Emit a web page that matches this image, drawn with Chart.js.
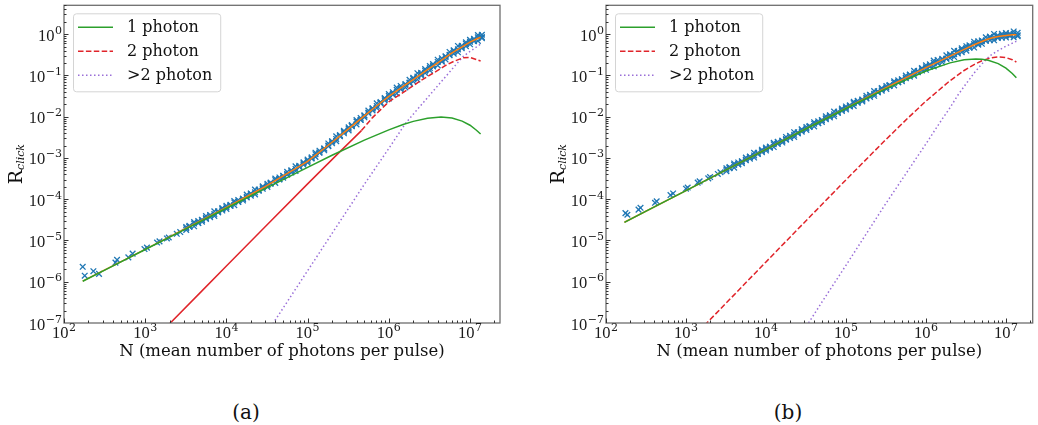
<!DOCTYPE html>
<html>
<head>
<meta charset="utf-8">
<script src="https://cdn.jsdelivr.net/npm/chart.js@4.4.1/dist/chart.umd.min.js"></script>
<style>
  body { margin: 0; background: #fff; width: 1038px; height: 425px; position: relative; overflow: hidden; font-family: 'DejaVu Serif', serif; }
  .panel { position: absolute; top: 0; height: 372px; }
  #pa { left: 0; width: 520px; }
  #pb { left: 520px; width: 518px; }
  .cap { position: absolute; top: 400px; width: 100px; text-align: center; font-size: 20px; line-height: 24px; color: #111; }
</style>
</head>
<body>
<div class="panel" id="pa"><canvas id="ca" width="520" height="372"></canvas></div>
<div class="panel" id="pb"><canvas id="cb" width="518" height="372"></canvas></div>
<div class="cap" style="left:196px">(a)</div>
<div class="cap" style="left:738px">(b)</div>
<script>
// axes: decade ticks, labelled 10^exp
const xTicks = [1e2, 1e3, 1e4, 1e5, 1e6, 1e7];
const xTickExps = ['2', '3', '4', '5', '6', '7'];
const yTicks = [1e-7, 1e-6, 1e-5, 1e-4, 1e-3, 1e-2, 1e-1, 1e0];
const yTickExps = ['−7', '−6', '−5', '−4', '−3', '−2', '−1', '0'];
const seriesNames = ['1 photon', '2 photon', '>2 photon'];
const xTitle = 'N (mean number of photons per pulse)';

// ---- panel (a) ----
const aGreenN = [170, 300, 1e3, 3e3, 1e4, 3e4, 1e5, 2e5, 5e5, 1e6, 1.5e6, 2e6, 3e6, 4.4e6, 6e6, 8e6, 1e7, 1.2e7, 1.35e7];
const aGreenR = [1.03e-6, 1.8e-6, 6.05e-6, 1.81e-5, 6.04e-5, 1.8e-4, 5.9e-4, 1.16e-3, 2.7e-3, 4.8e-3, 6.45e-3, 7.7e-3, 9.2e-3, 9.8e-3, 9.3e-3, 7.8e-3, 6.2e-3, 4.7e-3, 3.8e-3];
const aRedN = [1800, 5e3, 1e4, 3e4, 1e5, 2.4e5, 4.6e5, 6.3e5, 1e6, 1.66e6, 2.5e6, 3.16e6, 4e6, 5e6, 6.3e6, 8.3e6, 1e7, 1.35e7];
const aRedR = [7.8e-8, 6.0e-7, 2.4e-6, 2.15e-5, 2.35e-4, 1.31e-3, 4.6e-3, 9.5e-3, 2.3e-2, 4.4e-2, 7.6e-2, 0.1, 0.132, 0.174, 0.219, 0.269, 0.272, 0.224];
const aPurpleN = [3.5e4, 5e4, 1e5, 2e5, 5e5, 1e6, 1.6e6, 2e6, 2.66e6, 4e6, 5.16e6, 6e6, 8.26e6, 1e7, 1.35e7];
const aPurpleR = [7.9e-8, 2.31e-7, 1.85e-6, 1.48e-5, 2.3e-4, 1.7e-3, 6.8e-3, 1.15e-2, 2.2e-2, 5.6e-2, 0.1, 0.141, 0.29, 0.38, 0.575];
const aFitN = [170, 1e3, 1e4, 3e4, 1e5, 2e5, 3e5, 5e5, 7e5, 1e6, 1.5e6, 2e6, 3e6, 4e6, 5e6, 6e6, 8e6, 1e7, 1.2e7, 1.35e7];
const aFitR = [1.03e-6, 6.1e-6, 6.28e-5, 2.02e-4, 8.26e-4, 2.4e-3, 4.6e-3, 1.05e-2, 1.79e-2, 3.09e-2, 5.4e-2, 7.94e-2, 0.138, 0.202, 0.275, 0.35, 0.494, 0.638, 0.762, 0.84];
const aRedSolidTo = 4.6e5;

// measured points: three runs over the same N sweep, plus the sparse low-N points
const sweepN = [3200, 3500, 4000, 4500, 5000, 5600, 6300, 7100, 7900, 8900,
  10000, 11200, 12500, 14000, 16000, 17800, 20000, 22500, 25000, 28000,
  32000, 35000, 40000, 45000, 50000, 56000, 63000, 71000, 79000, 89000,
  1.0e5, 1.12e5, 1.25e5, 1.4e5, 1.6e5, 1.8e5, 2.0e5, 2.25e5, 2.5e5, 2.8e5,
  3.2e5, 3.5e5, 4.0e5, 4.5e5, 5.0e5, 5.6e5, 6.3e5, 7.1e5, 7.9e5, 8.9e5,
  1.0e6, 1.12e6, 1.25e6, 1.4e6, 1.6e6, 1.8e6, 2.0e6, 2.25e6, 2.5e6, 2.8e6,
  3.2e6, 3.5e6, 4.0e6, 4.5e6, 5.0e6, 5.6e6, 6.3e6, 7.1e6, 7.9e6, 8.9e6,
  1.0e7, 1.12e7, 1.25e7, 1.4e7];
const aRun1 = [2.13e-5, 2.27e-5, 2.79e-5, 2.94e-5, 3.16e-5, 3.9e-5, 4.16e-5, 5.1e-5, 5.11e-5, 6.08e-5,
  6.91e-5, 7.34e-5, 9.07e-5, 9.61e-5, 1.03e-4, 1.29e-4, 1.38e-4, 1.71e-4, 1.71e-4, 2.05e-4,
  2.35e-4, 2.53e-4, 3.16e-4, 3.37e-4, 3.67e-4, 4.59e-4, 4.99e-4, 6.26e-4, 6.41e-4, 7.83e-4,
  9.09e-4, 1.03e-3, 1.34e-3, 1.5e-3, 1.69e-3, 2.24e-3, 2.54e-3, 3.34e-3, 3.57e-3, 4.55e-3,
  5.51e-3, 6.27e-3, 8.25e-3, 9.32e-3, 1.07e-2, 1.41e-2, 1.6e-2, 2.11e-2, 2.26e-2, 2.83e-2,
  3.52e-2, 3.92e-2, 5.08e-2, 5.56e-2, 6.17e-2, 7.84e-2, 8.73e-2, 0.113, 0.116, 0.142,
  0.169, 0.188, 0.24, 0.26, 0.292, 0.371, 0.409, 0.517, 0.524, 0.635,
  0.727, 0.773, 0.945, 0.967];
const aRun2 = [1.8e-5, 2.14e-5, 2.21e-5, 2.64e-5, 2.85e-5, 3.48e-5, 3.68e-5, 3.92e-5, 4.81e-5, 5.3e-5,
  5.84e-5, 6.92e-5, 7.16e-5, 8.62e-5, 9.29e-5, 1.15e-4, 1.22e-4, 1.31e-4, 1.61e-4, 1.79e-4,
  1.99e-4, 2.38e-4, 2.49e-4, 3.02e-4, 3.31e-4, 4.1e-4, 4.43e-4, 4.81e-4, 6.03e-4, 6.82e-4,
  7.68e-4, 9.69e-4, 1.06e-3, 1.34e-3, 1.53e-3, 2.0e-3, 2.26e-3, 2.56e-3, 3.37e-3, 3.96e-3,
  4.66e-3, 5.91e-3, 6.52e-3, 8.36e-3, 9.66e-3, 1.26e-2, 1.42e-2, 1.62e-2, 2.12e-2, 2.47e-2,
  2.75e-2, 3.41e-2, 3.67e-2, 4.61e-2, 5.12e-2, 6.49e-2, 7.15e-2, 7.93e-2, 0.1, 0.115,
  0.132, 0.164, 0.174, 0.215, 0.242, 0.307, 0.335, 0.363, 0.456, 0.511,
  0.568, 0.673, 0.683, 0.801];
const aRun3 = [1.98e-5, 2.16e-5, 2.57e-5, 2.67e-5, 3.13e-5, 3.34e-5, 4.08e-5, 4.4e-5, 4.86e-5, 5.75e-5,
  6.41e-5, 6.99e-5, 8.36e-5, 8.71e-5, 1.02e-4, 1.1e-4, 1.35e-4, 1.47e-4, 1.63e-4, 1.94e-4,
  2.18e-4, 2.41e-4, 2.91e-4, 3.06e-4, 3.64e-4, 3.94e-4, 4.9e-4, 5.4e-4, 6.1e-4, 7.4e-4,
  8.43e-4, 9.79e-4, 1.23e-3, 1.36e-3, 1.68e-3, 1.92e-3, 2.5e-3, 2.88e-3, 3.4e-3, 4.3e-3,
  5.11e-3, 5.97e-3, 7.6e-3, 8.45e-3, 1.06e-2, 1.21e-2, 1.57e-2, 1.82e-2, 2.15e-2, 2.68e-2,
  3.15e-2, 3.59e-2, 4.48e-2, 4.86e-2, 5.88e-2, 6.69e-2, 8.26e-2, 9.33e-2, 0.106, 0.13,
  0.151, 0.172, 0.212, 0.227, 0.278, 0.317, 0.387, 0.427, 0.48, 0.579,
  0.651, 0.709, 0.834, 0.845];
const aLowN = [170, 180, 230, 270, 430, 450, 620, 700, 980, 1050, 1400, 1500, 1850, 1950, 2450, 2700];
const aLowR = [2.3e-6, 1.4e-6, 1.8e-6, 1.55e-6, 2.9e-6, 3.4e-6, 3.9e-6, 4.8e-6, 6.2e-6, 6.7e-6, 8.9e-6, 9.5e-6, 1.12e-5, 1.18e-5, 1.45e-5, 1.6e-5];

// ---- panel (b) ----
const bGreenN = [170, 300, 1e3, 3e3, 1e4, 3e4, 1e5, 3e5, 1e6, 2e6, 3e6, 4.2e6, 5e6, 6e6, 8e6, 1e7, 1.2e7, 1.35e7];
const bGreenR = [2.75e-5, 4.86e-5, 1.62e-4, 4.86e-4, 1.62e-3, 4.83e-3, 0.0158, 0.0452, 0.1277, 0.2015, 0.238, 0.25, 0.246, 0.233, 0.193, 0.15, 0.111, 0.0875];
const bRedN = [1700, 5e3, 1e4, 3e4, 1e5, 3e5, 6e5, 1e6, 2e6, 3e6, 4e6, 5e6, 6e6, 7e6, 8.3e6, 1e7, 1.2e7, 1.35e7];
const bRedR = [8.7e-8, 7.55e-7, 3.02e-6, 2.7e-5, 2.95e-4, 2.53e-3, 9.42e-3, 0.0238, 0.0745, 0.1316, 0.183, 0.226, 0.255, 0.273, 0.28, 0.27, 0.24, 0.211];
const bPurpleN = [3.2e4, 5e4, 1e5, 3e5, 1e6, 1.58e6, 2e6, 2.5e6, 3.16e6, 4e6, 5e6, 6.3e6, 8e6, 1e7, 1.35e7];
const bPurpleR = [8.3e-8, 3.2e-7, 2.5e-6, 6.8e-5, 2.2e-3, 8.5e-3, 0.0165, 0.033, 0.062, 0.114, 0.19, 0.3, 0.4, 0.51, 0.67];
const bFitN = [170, 1e3, 1e4, 1e5, 3e5, 1e6, 1.5e6, 2e6, 3e6, 4e6, 5e6, 6e6, 7e6, 8e6, 1e7, 1.2e7, 1.35e7];
const bFitR = [2.76e-5, 1.62e-4, 1.623e-3, 1.61e-2, 4.8e-2, 0.154, 0.225, 0.294, 0.427, 0.553, 0.662, 0.76, 0.83, 0.875, 0.933, 0.968, 0.97];
const bRun1 = [5.64e-4, 5.98e-4, 7.36e-4, 7.76e-4, 8.29e-4, 1.02e-3, 1.08e-3, 1.33e-3, 1.33e-3, 1.58e-3,
  1.78e-3, 1.89e-3, 2.33e-3, 2.45e-3, 2.62e-3, 3.23e-3, 3.42e-3, 4.21e-3, 4.19e-3, 4.97e-3,
  5.64e-3, 5.97e-3, 7.34e-3, 7.73e-3, 8.27e-3, 1.02e-2, 1.08e-2, 1.33e-2, 1.32e-2, 1.57e-2,
  1.77e-2, 1.88e-2, 2.31e-2, 2.43e-2, 2.6e-2, 3.2e-2, 3.39e-2, 4.16e-2, 4.14e-2, 4.91e-2,
  5.56e-2, 5.87e-2, 7.22e-2, 7.58e-2, 8.07e-2, 9.92e-2, 0.105, 0.129, 0.128, 0.151,
  0.176, 0.186, 0.228, 0.237, 0.252, 0.307, 0.323, 0.395, 0.389, 0.455,
  0.51, 0.536, 0.656, 0.669, 0.703, 0.841, 0.871, 1.01, 0.933, 1.02,
  1.06, 1.03, 1.16, 1.08];
const bRun2 = [4.77e-4, 5.64e-4, 5.81e-4, 6.96e-4, 7.48e-4, 9.12e-4, 9.62e-4, 1.02e-3, 1.25e-3, 1.38e-3,
  1.51e-3, 1.78e-3, 1.84e-3, 2.2e-3, 2.36e-3, 2.88e-3, 3.04e-3, 3.23e-3, 3.95e-3, 4.33e-3,
  4.77e-3, 5.63e-3, 5.8e-3, 6.93e-3, 7.46e-3, 9.1e-3, 9.58e-3, 1.02e-2, 1.24e-2, 1.37e-2,
  1.5e-2, 1.77e-2, 1.83e-2, 2.18e-2, 2.35e-2, 2.86e-2, 3.01e-2, 3.2e-2, 3.9e-2, 4.28e-2,
  4.7e-2, 5.53e-2, 5.7e-2, 6.8e-2, 7.28e-2, 8.86e-2, 9.31e-2, 9.86e-2, 0.12, 0.131,
  0.137, 0.162, 0.165, 0.196, 0.209, 0.254, 0.264, 0.278, 0.338, 0.367,
  0.398, 0.466, 0.474, 0.555, 0.583, 0.696, 0.713, 0.709, 0.811, 0.823,
  0.83, 0.897, 0.839, 0.892];
const bRun3 = [5.23e-4, 5.69e-4, 6.78e-4, 7.03e-4, 8.21e-4, 8.76e-4, 1.06e-3, 1.15e-3, 1.26e-3, 1.49e-3,
  1.65e-3, 1.8e-3, 2.14e-3, 2.22e-3, 2.6e-3, 2.76e-3, 3.36e-3, 3.63e-3, 3.99e-3, 4.7e-3,
  5.23e-3, 5.68e-3, 6.76e-3, 7.0e-3, 8.19e-3, 8.74e-3, 1.06e-2, 1.145e-2, 1.25e-2, 1.48e-2,
  1.64e-2, 1.79e-2, 2.13e-2, 2.2e-2, 2.58e-2, 2.75e-2, 3.33e-2, 3.59e-2, 3.94e-2, 4.64e-2,
  5.15e-2, 5.58e-2, 6.65e-2, 6.87e-2, 7.99e-2, 8.51e-2, 0.103, 0.111, 0.121, 0.142,
  0.157, 0.17, 0.201, 0.207, 0.24, 0.254, 0.305, 0.327, 0.356, 0.415,
  0.456, 0.491, 0.579, 0.585, 0.67, 0.696, 0.824, 0.834, 0.855, 0.931,
  0.952, 0.944, 1.02, 0.941];
const bLowN = [175, 185, 255, 270, 410, 430, 640, 690, 1000, 1050, 1400, 1480, 1900, 2000, 2500, 2700];
const bLowR = [4.6e-5, 4.2e-5, 5.6e-5, 6.2e-5, 8.2e-5, 8.9e-5, 1.26e-4, 1.38e-4, 1.8e-4, 1.92e-4, 2.52e-4, 2.7e-4, 3.2e-4, 3.45e-4, 4.1e-4, 4.5e-4];

// ---- styling ----
const FONT = "'DejaVu Serif', serif";
const NUMFONT = "'Liberation Serif', serif";
const GREEN = '#2ca02c', RED = '#e0242a', PURPLE = '#9a6fd8', ORANGE = '#ff7f0e', BLUE = '#1f77b4';
const DASHED = [5.5, 2.4], DOTTED = [1.5, 2.5];
Chart.defaults.font.family = FONT;

function pts(xs, ys) { return xs.map((x, i) => ({ x: x, y: ys[i] })); }

function curve(label, xs, ys, color, dash, extra) {
  return Object.assign({
    label: label, data: pts(xs, ys), showLine: true, pointRadius: 0, pointHitRadius: 0,
    borderColor: color, borderWidth: 1.5, borderDash: dash, legendDash: dash, inLegend: true
  }, extra || {});
}

function marks(xs, ys) {
  return {
    label: 'data', data: pts(xs, ys), showLine: false, pointStyle: 'crossRot',
    pointRadius: 4, pointBorderWidth: 1.3, pointBorderColor: BLUE, pointBackgroundColor: BLUE
  };
}

// matplotlib-like log ticks: majors at decades, minors at 2..9
function logTicks(lo, hi, majors) {
  const out = [];
  majors.forEach(m => {
    for (let d = 1; d <= 9; d++) {
      const v = m * d;
      if (v >= lo * 0.999 && v <= hi) out.push({ value: v, major: d === 1 });
    }
  });
  return out;
}

// "10" with a raised exponent, aligned like matplotlib mathtext
function powLabel(ctx, exp, x, y, align) {
  ctx.font = '16.5px ' + NUMFONT;
  const wb = ctx.measureText('10').width;
  ctx.font = '11px ' + FONT;
  const we = ctx.measureText(exp).width;
  const w = wb + we + 0.5;
  const x0 = align === 'center' ? x - w / 2 : x - w;
  ctx.font = '16.5px ' + NUMFONT;
  ctx.fillText('10', x0, y);
  ctx.font = '11px ' + FONT;
  ctx.fillText(exp, x0 + wb + 0.5, y - 7);
}

function decor() {
  return {
    id: 'decor',
    afterDraw(chart) {
      const { ctx, chartArea: a, scales: { x, y } } = chart;
      ctx.save();
      // axes frame
      ctx.strokeStyle = '#6e6e6e';
      ctx.lineWidth = 1.3;
      ctx.setLineDash([]);
      ctx.strokeRect(a.left, a.top, a.right - a.left, a.bottom - a.top);
      // inward ticks
      ctx.strokeStyle = '#333';
      ctx.lineWidth = 1;
      ctx.beginPath();
      x.ticks.forEach(t => {
        const px = Math.round(x.getPixelForValue(t.value)) + 0.5;
        if (px < a.left || px > a.right) return;
        ctx.moveTo(px, a.bottom);
        ctx.lineTo(px, a.bottom - (t.major ? 4.5 : 2.5));
      });
      y.ticks.forEach(t => {
        const py = Math.round(y.getPixelForValue(t.value)) + 0.5;
        if (py < a.top || py > a.bottom) return;
        ctx.moveTo(a.left, py);
        ctx.lineTo(a.left + (t.major ? 4.5 : 2.5), py);
      });
      ctx.stroke();
      // tick labels
      ctx.fillStyle = '#1a1a1a';
      ctx.textBaseline = 'alphabetic';
      ctx.textAlign = 'left';
      xTicks.forEach((v, i) => powLabel(ctx, xTickExps[i], x.getPixelForValue(v), a.bottom + 15, 'center'));
      yTicks.forEach((v, i) => powLabel(ctx, yTickExps[i], a.left - 2, y.getPixelForValue(v) + 6.5, 'right'));
      // y axis title R_click
      ctx.fillStyle = '#111';
      ctx.translate(a.left - 49, (a.top + a.bottom) / 2);
      ctx.rotate(-Math.PI / 2);
      ctx.font = '19px ' + FONT;
      const wR = ctx.measureText('R').width;
      ctx.font = 'italic 11px ' + FONT;
      const wSub = ctx.measureText('click').width;
      const x0 = -(wR + wSub) / 2;
      ctx.font = '19px ' + FONT;
      ctx.fillText('R', x0, 7);
      ctx.font = 'italic 11px ' + FONT;
      ctx.fillText('click', x0 + wR, 9);
      ctx.restore();

      // legend
      ctx.save();
      const items = chart.data.datasets.filter(d => d.inLegend);
      ctx.font = '16px ' + FONT;
      const tw = Math.max.apply(null, items.map(d => ctx.measureText(d.label).width));
      const bx = a.left + 9, by = a.top + 8, bw = tw + 62, bh = 78;
      ctx.beginPath();
      ctx.roundRect(bx + 0.5, by + 0.5, bw, bh, 3);
      ctx.fillStyle = 'rgba(255,255,255,0.8)';
      ctx.fill();
      ctx.strokeStyle = '#d4d4d4';
      ctx.lineWidth = 1;
      ctx.stroke();
      items.forEach((d, i) => {
        const ly = by + 14 + i * 24;
        ctx.beginPath();
        ctx.setLineDash(d.legendDash);
        ctx.strokeStyle = d.borderColor;
        ctx.lineWidth = 1.5;
        ctx.moveTo(bx + 5, ly);
        ctx.lineTo(bx + 40, ly);
        ctx.stroke();
        ctx.setLineDash([]);
        ctx.fillStyle = '#111';
        ctx.textBaseline = 'middle';
        ctx.fillText(d.label, bx + 54, ly + 1);
      });
      ctx.restore();
    }
  };
}

function makePanel(id, o) {
  return new Chart(document.getElementById(id), {
    type: 'scatter',
    data: { datasets: o.datasets },
    options: {
      responsive: false,
      devicePixelRatio: 1,
      animation: false,
      events: [],
      layout: { padding: { top: 2, right: o.padRight, left: 0, bottom: 0 } },
      plugins: { legend: { display: false }, tooltip: { enabled: false } },
      scales: {
        x: {
          type: 'logarithmic', position: 'bottom', min: 100, max: o.xMax,
          afterBuildTicks: s => { s.ticks = logTicks(100, o.xMax, xTicks); },
          afterFit: s => { s.height = 49; },
          grid: { display: false, drawTicks: false },
          border: { display: false },
          ticks: { display: false, autoSkip: false },
          title: { display: true, text: xTitle, color: '#111', font: { size: 16.5 }, padding: { top: 0, bottom: 10 } }
        },
        y: {
          type: 'logarithmic', position: 'left', min: 1e-7, max: 5,
          afterBuildTicks: s => { s.ticks = logTicks(1e-7, 5, yTicks); },
          afterFit: s => { s.width = o.yWidth; },
          grid: { display: false, drawTicks: false },
          border: { display: false },
          ticks: { display: false, autoSkip: false }
        }
      }
    },
    plugins: [decor()]
  });
}

makePanel('ca', {
  xMax: 2.34e7, padRight: 20, yWidth: 64,
  datasets: [
    curve(seriesNames[0], aGreenN, aGreenR, GREEN, []),
    curve(seriesNames[1], aRedN, aRedR, RED, DASHED, {
      segment: { borderDash: c => (aRedN[c.p0DataIndex] < aRedSolidTo ? [] : DASHED) }
    }),
    curve(seriesNames[2], aPurpleN, aPurpleR, PURPLE, DOTTED),
    curve('fit', aFitN, aFitR, ORANGE, [], { inLegend: false }),
    marks(sweepN, aRun1),
    marks(sweepN, aRun2),
    marks(sweepN, aRun3),
    marks(aLowN, aLowR)
  ]
});

makePanel('cb', {
  xMax: 2.16e7, padRight: 1, yWidth: 86,
  datasets: [
    curve(seriesNames[0], bGreenN, bGreenR, GREEN, []),
    curve(seriesNames[1], bRedN, bRedR, RED, DASHED),
    curve(seriesNames[2], bPurpleN, bPurpleR, PURPLE, DOTTED),
    curve('fit', bFitN, bFitR, ORANGE, [], { inLegend: false }),
    marks(sweepN, bRun1),
    marks(sweepN, bRun2),
    marks(sweepN, bRun3),
    marks(bLowN, bLowR)
  ]
});
</script>
</body>
</html>
